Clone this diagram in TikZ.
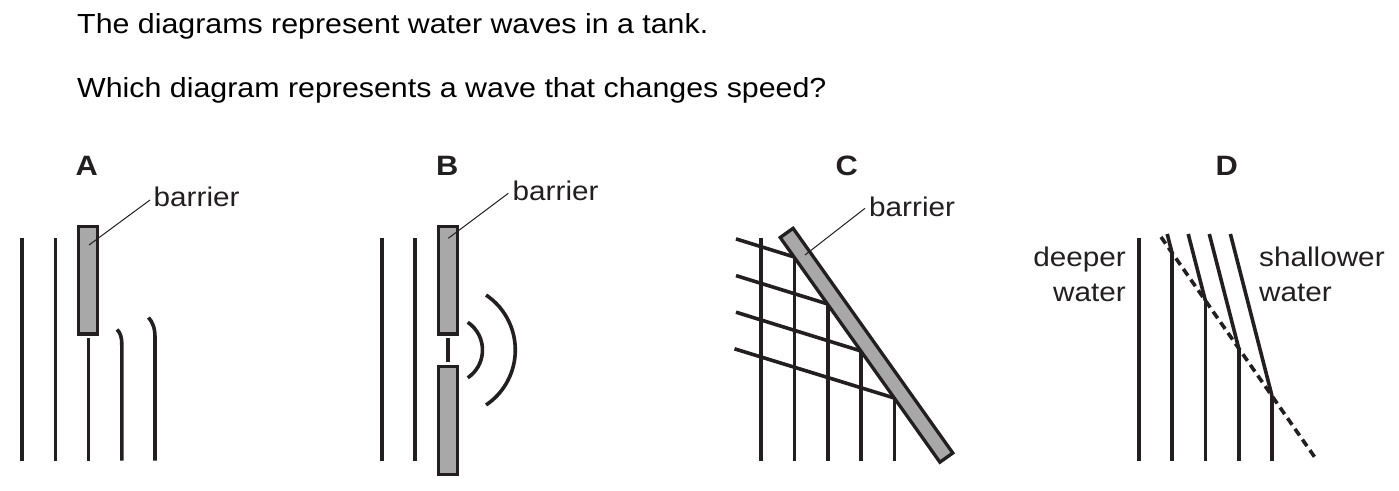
\documentclass[tikz,border=0pt]{standalone}
\usepackage{fontspec}
\setmainfont{Liberation Sans}[FakeStretch=1.1]
\definecolor{ink}{HTML}{231F20}
\definecolor{barfill}{HTML}{A8A8A8}
\begin{document}
\begin{tikzpicture}[x=1pt,y=-1pt,
  wave/.style={draw=ink,line width=3.6pt},
  barrierbox/.style={draw=ink,fill=barfill,line width=3.3pt},
  leader/.style={draw=ink,line width=1pt},
  lbl/.style={inner sep=0pt,text=ink,font=\fontsize{27}{32}\selectfont},
  panel/.style={inner sep=0pt,text=ink,anchor=base,font=\fontsize{28}{32}\selectfont\bfseries},
  question/.style={inner sep=0pt,anchor=base west,font=\fontsize{27.6}{32}\selectfont}]
\useasboundingbox (0,0) rectangle (1399,490);
\fill[white] (0,0) rectangle (1399,490);
% question
\node[question] (q1) at (77,33) {The diagrams represent water waves in a tank.};
\node[question] (q2) at (77,97) {Which diagram represents a wave that changes speed?};
% panel labels
\node[panel] (la) at (86.7,175) {A};
\node[panel] (lb) at (447.3,175) {B};
\node[panel] (lc) at (846.7,175) {C};
\node[panel] (ld) at (1226.7,175) {D};
% ---------- A
\draw[wave] (22,238.3) -- (22,460.7);
\draw[wave] (55.3,238.3) -- (55.3,460.7);
\draw[wave] (88.5,338) -- (88.5,460.7);
\draw[wave] (121.8,460.7) -- (121.8,345) .. controls (121.8,337) and (120.5,333) .. (117,329.5);
\draw[wave] (155,460.7) -- (155,337) .. controls (155,328) and (152.5,322) .. (148.5,317.5);
\draw[barrierbox] (78.5,226.5) rectangle (97.5,334);
\node[lbl,anchor=base west] (ba) at (153.5,206) {barrier};
\coordinate (pa) at (89,245);
\coordinate (ta) at (150,200);
\draw[leader] (pa) -- (ta);
% ---------- B
\draw[wave] (381.7,238.3) -- (381.7,460.7);
\draw[wave] (415,238.3) -- (415,460.7);
\draw[barrierbox] (438.8,226.5) rectangle (457.5,334);
\draw[barrierbox] (438.8,366.5) rectangle (457.5,474.5);
\draw[wave] (448,338.3) -- (448,361.7);
\draw[wave] (449,350) ++(-56:33.5) arc[start angle=-56,end angle=56,radius=33.5];
\draw[wave] (449,350) ++(-56:66.3) arc[start angle=-56,end angle=56,radius=66.3];
\node[lbl,anchor=base west] (bb) at (512.5,200.5) {barrier};
\coordinate (pb) at (448.3,238.3);
\coordinate (tb) at (508.3,193.3);
\draw[leader] (pb) -- (tb);
% ---------- C
\draw[wave] (761,238.3) -- (761,460.7);
\draw[wave] (794.3,257) -- (794.3,460.7);
\draw[wave] (827.7,304) -- (827.7,460.7);
\draw[wave] (861,351) -- (861,460.7);
\draw[wave] (894.3,398) -- (894.3,460.7);
\draw[wave] (736,238.9) -- (794.3,257);
\draw[wave] (736,275.6) -- (827.7,304);
\draw[wave] (736,312.2) -- (861,351);
\draw[wave] (734.5,348.8) -- (894.3,398);
\draw[barrierbox] (780.2,237.5) -- (793.1,228.3) -- (952.8,453) -- (939.9,462.2) -- cycle;
\node[lbl,anchor=base west] (bc) at (869,216.5) {barrier};
\coordinate (pc) at (805,255);
\coordinate (tc) at (865,208.3);
\draw[leader] (pc) -- (tc);
% ---------- D
\draw[wave] (1139,238.3) -- (1139,460.7);
\draw[wave] (1172,252.8) -- (1172,460.7);
\draw[wave] (1205.3,300.4) -- (1205.3,460.7);
\draw[wave] (1238.7,348.3) -- (1238.7,460.7);
\draw[wave] (1272,396) -- (1272,460.7);
\draw[wave] (1167.2,234) -- (1172,252.8);
\draw[wave] (1188.2,234) -- (1205.3,300.4);
\draw[wave] (1209.3,234) -- (1238.7,348.3);
\draw[wave] (1230.4,234) -- (1272,396);
\draw[wave,dash pattern=on 8pt off 5pt] (1161,237) -- (1316,459);
\node[lbl,anchor=base east] (dw1) at (1126,266.7) {deeper};
\node[lbl,anchor=base east] (dw2) at (1126,301.7) {water};
\node[lbl,anchor=base west] (sw1) at (1259,266.7) {shallower};
\node[lbl,anchor=base west] (sw2) at (1259,301.7) {water};
\end{tikzpicture}
\end{document}
